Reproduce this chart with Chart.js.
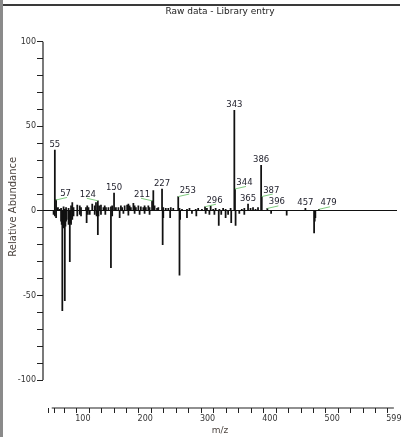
<!DOCTYPE html>
<html>
<head>
<meta charset="utf-8">
<script src="https://cdn.jsdelivr.net/npm/chart.js@4"></script>
<style>
  html, body { margin: 0; padding: 0; background: #fff; }
  #wrap { position: relative; width: 402px; height: 437px; overflow: hidden; }
  #wrap canvas { position: absolute; left: 0; top: 0; }
  .frameTop { position: absolute; left: 2px; top: 4px; width: 398px; height: 2px; background: #3a3a3a; }
  .frameLeft { position: absolute; left: 0; top: 0; width: 3px; height: 437px; background: #8a8a8a; }
</style>
</head>
<body>
<div id="wrap">
	<canvas id="spectrum" width="402" height="437"></canvas>
	<div class="frameTop"></div>
	<div class="frameLeft"></div>
</div>
<script>
// raw data peaks (upper half)
const mzRaw = [55, 57, 59, 60, 63, 65, 69, 71, 73, 77, 81, 83, 85, 91, 95, 97, 105, 107, 109, 115,
	119, 121, 124, 126, 129, 133, 135, 137, 141, 145, 147, 150, 153, 157, 161, 163, 167, 171, 173, 175,
	177, 181, 183, 185, 189, 193, 197, 199, 201, 205, 207, 211, 213, 215, 219, 221, 227, 229, 233, 237,
	241, 245, 253, 255, 259, 267, 271, 281, 285, 291, 296, 299, 305, 309, 313, 319, 325, 329, 337, 343,
	344, 355, 359, 365, 369, 373, 377, 381, 386, 387, 396, 457, 479];
const intRaw = [36, 6.5, 1.5, 2, 1, 1.5, 2.5, 1, 2, 1.5, 3, 5, 2, 3.5, 3, 2, 2, 3, 2, 4,
	3, 5, 6, 3, 3.5, 2, 3, 2, 2, 2.5, 3, 10.5, 2, 2, 3, 2, 3, 3.5, 4, 3,
	2, 4.5, 3, 2, 3, 2.5, 2, 3, 2, 3, 2, 6, 12, 3, 1.5, 2, 13, 2, 1.5, 1.5,
	2, 1.5, 8.5, 1.5, 1, 1, 1.5, 1, 1.5, 1, 2.5, 1.5, 3, 1, 1.5, 1, 1.5, 1, 1.5, 59.5,
	13, 1, 1.5, 4, 1.5, 2, 1, 2, 27, 8.5, 1.5, 1.5, 1];

// library entry peaks (lower half, mirrored)
const mzLib = [53, 55, 57, 65, 66, 67, 68, 69, 70, 71, 72, 73, 74, 77, 79, 80, 81, 83, 85, 91,
	95, 97, 106, 108, 111, 119, 122, 124, 125, 129, 136, 145, 147, 159, 165, 173, 183, 191, 199, 207,
	228, 229, 240, 255, 256, 267, 275, 282, 297, 303, 311, 318, 322, 329, 333, 338, 345, 351, 359, 402,
	427, 471, 472, 473];
const intLib = [-2, -3, -4, -6, -8, -59, -9, -10, -7, -53, -9, -6, -5, -8, -30, -7, -8, -5, -3, -3,
	-2, -3, -7, -2, -2, -2, -3, -14, -3, -2, -2, -33.5, -3, -4, -1.5, -2.5, -1.5, -2, -1.5, -2,
	-20, -4, -4, -38, -5, -4, -1.5, -3, -1.5, -2, -2, -8.5, -2, -4, -2, -7, -8.5, -1.5, -2, -1.5,
	-2.5, -13, -6, -4];

const labelledPeaks = [55, 57, 124, 150, 211, 227, 253, 296, 343, 344, 365, 386, 387, 396, 457, 479];

const xTickValues = [50, 60, 80, 100, 120, 140, 160, 180, 200, 220, 240, 260, 280, 300, 320, 340, 360,
	380, 400, 420, 440, 460, 480, 500, 520, 540, 560, 580, 599];
const xTickLabels = [100, 200, 300, 400, 500, 599];
const yTickValues = [-100, -90, -80, -70, -60, -50, -40, -30, -20, -10, 0, 10, 20, 30, 40, 50, 60, 70, 80, 90, 100];
const yTickLabels = [-100, -50, 0, 50, 100];
const xAxisRange = [50, 599];
const yAxisRange = [-100, 100];

const fontFamily = '"DejaVu Sans", sans-serif';

// axis lines that do not meet, plus rotated y title
const axisLines = {
	id: 'axisLines',
	afterDatasetsDraw(chart) {
		const { ctx, chartArea, scales: { x, y } } = chart;
		ctx.save();
		ctx.strokeStyle = '#222';
		ctx.lineWidth = 1.2;
		ctx.beginPath();
		ctx.moveTo(chartArea.left, y.getPixelForValue(yAxisRange[1]));
		ctx.lineTo(chartArea.left, y.getPixelForValue(yAxisRange[0]));
		ctx.moveTo(x.getPixelForValue(xAxisRange[0]), chartArea.bottom);
		ctx.lineTo(x.getPixelForValue(xAxisRange[1]), chartArea.bottom);
		ctx.stroke();

		ctx.translate(13, y.getPixelForValue(2.5));
		ctx.rotate(-Math.PI / 2);
		ctx.font = `10px ${fontFamily}`;
		ctx.fillStyle = '#4d4540';
		ctx.textAlign = 'center';
		ctx.textBaseline = 'middle';
		ctx.fillText('Relative Abundance', 0, 0);
		ctx.restore();
	}
};

// m/z labels above raw peaks, some with a green leader line
const peakLabels = {
	id: 'peakLabels',
	afterDatasetsDraw(chart, args, opts) {
		const { ctx } = chart;
		const meta = chart.getDatasetMeta(0);
		ctx.save();
		ctx.font = `8.5px ${fontFamily}`;
		ctx.fillStyle = '#1e1e2a';
		ctx.textAlign = 'center';
		ctx.textBaseline = 'alphabetic';
		labelledPeaks.forEach(mz => {
			const bar = meta.data[mzRaw.indexOf(mz)];
			const side = opts.side[mz] || 0;
			let tx = bar.x, ty = bar.y - 3;
			if (side) {
				const ex = bar.x + side * 11, ey = bar.y - 2.5;
				ctx.strokeStyle = '#80cc80';
				ctx.lineWidth = 1;
				ctx.beginPath();
				ctx.moveTo(bar.x, bar.y);
				ctx.lineTo(ex, ey);
				ctx.stroke();
				tx = bar.x + side * (side > 0 ? 9.5 : 10);
				ty = ey - 1.5;
			}
			ctx.fillText(String(mz), tx, ty);
		});
		ctx.restore();
	}
};

new Chart(document.getElementById('spectrum'), {
	type: 'bar',
	data: {
		datasets: [{
			label: 'Raw data',
			data: mzRaw.map((m, i) => ({ x: m, y: intRaw[i] })),
			backgroundColor: '#111',
		}, {
			label: 'Library entry',
			data: mzLib.map((m, i) => ({ x: m, y: intLib[i] })),
			backgroundColor: '#111',
		}]
	},
	options: {
		responsive: false,
		animation: false,
		devicePixelRatio: 1,
		layout: { padding: { left: 0, right: 5, top: 0, bottom: 0 } },
		datasets: { bar: { grouped: false, barThickness: 1.1 } },
		plugins: {
			legend: { display: false },
			tooltip: { enabled: false },
			title: {
				display: true,
				text: 'Raw data - Library entry',
				fullSize: false,
				color: '#222',
				font: { family: fontFamily, size: 9, weight: 'normal' },
				padding: { top: 6, bottom: 25 },
			},
			peakLabels: {
				side: { 57: 1, 124: -1, 211: -1, 253: 1, 296: 1, 344: 1, 387: 1, 396: 1, 479: 1 },
			},
		},
		scales: {
			x: {
				type: 'linear',
				min: 36,
				max: 604,
				offset: false,
				afterBuildTicks: s => { s.ticks = xTickValues.map(v => ({ value: v })); },
				afterFit: s => { s.height = 29; s.paddingLeft = 0; s.paddingRight = 0; },
				border: { display: false },
				grid: { drawOnChartArea: false, tickColor: '#222', tickLength: 5 },
				ticks: {
					autoSkip: false,
					maxRotation: 0,
					padding: 1,
					color: '#333',
					font: { family: fontFamily, size: 8 },
					callback: v => xTickLabels.includes(v) ? String(v) : '',
				},
				title: {
					display: true,
					text: 'm/z',
					color: '#4d4540',
					font: { family: fontFamily, size: 9 },
					padding: { top: 0, bottom: 1 },
				},
			},
			y: {
				min: -116.5,
				max: 100,
				afterBuildTicks: s => { s.ticks = yTickValues.map(v => ({ value: v })); },
				afterFit: s => { s.width = 43; },
				border: { display: false },
				grid: {
					color: c => c.tick && c.tick.value === 0 ? '#111' : 'rgba(0,0,0,0)',
					tickColor: '#222',
					tickLength: 6,
				},
				ticks: {
					autoSkip: false,
					padding: 1,
					color: '#333',
					font: { family: fontFamily, size: 8 },
					callback: v => yTickLabels.includes(v) ? String(v) : '',
				},
			},
		},
	},
	plugins: [axisLines, peakLabels],
});
</script>
</body>
</html>
